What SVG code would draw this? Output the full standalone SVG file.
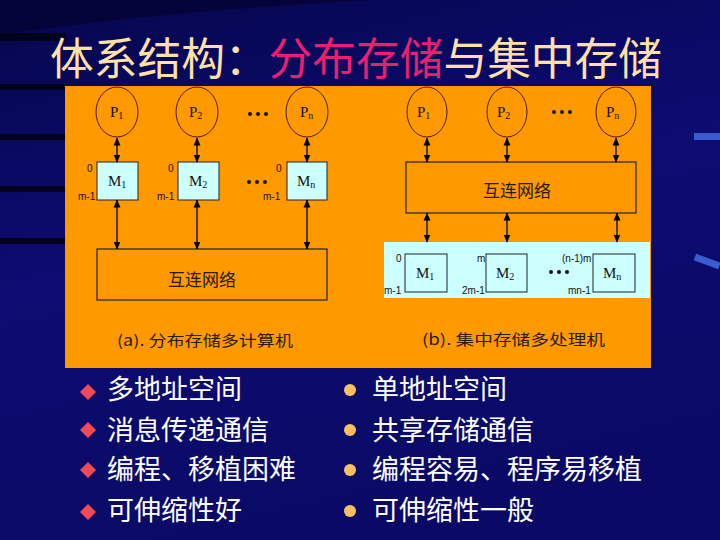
<svg xmlns="http://www.w3.org/2000/svg" width="720" height="540" viewBox="0 0 720 540">
<defs>
<linearGradient id="bg" x1="0" y1="0" x2="0.3" y2="1">
<stop offset="0" stop-color="#06064e"/>
<stop offset="0.5" stop-color="#0c0c72"/>
<stop offset="1" stop-color="#0a0a66"/>
</linearGradient>
<marker id="ah" viewBox="0 0 8 8" refX="7.5" refY="4" markerWidth="8" markerHeight="8" markerUnits="userSpaceOnUse" orient="auto-start-reverse">
<path d="M0,0.5 L8,4 L0,7.5 Z" fill="#000"/>
</marker>
<style>
.proc{fill:none;stroke:#4a1a00;stroke-width:1}
.mem{fill:#ccffff;stroke:#222;stroke-width:1}
.net{fill:none;stroke:#222;stroke-width:1.2}
.conn line{stroke:#000;stroke-width:1.3;marker-start:url(#ah);marker-end:url(#ah)}
.lbl{font-family:"Liberation Serif",serif;font-size:15px;fill:#111}
.sub{font-size:10px}
.addr{font-family:"Liberation Sans",sans-serif;font-size:10px;fill:#111}
.dots{fill:#111}
.cn{font-family:"Noto Sans CJK SC",sans-serif;fill:#2a1a00}
.bul{font-family:"Noto Sans CJK SC",sans-serif;font-size:27px;fill:#ffffff}
</style>
</defs>
<rect width="720" height="540" fill="url(#bg)"/>
<path d="M0,35 Q260,-5 720,-10 L720,0 L0,0 Z" fill="#04043a"/>
<g fill="#02021e">
<rect x="0" y="33" width="66" height="8"/>
<rect x="0" y="84" width="66" height="6"/>
<rect x="0" y="134" width="66" height="6"/>
<rect x="0" y="186" width="66" height="6"/>
<rect x="0" y="238" width="66" height="6"/>
</g>
<rect x="694" y="133" width="26" height="7" fill="#3a5cd0"/>
<rect x="694" y="258" width="26" height="7" fill="#3a5cd0" transform="rotate(20 707 262)"/>

<text x="50" y="75" font-family="'Noto Sans CJK SC',sans-serif" font-size="44" fill="#ffe0a8" textLength="612" lengthAdjust="spacingAndGlyphs">体系结构：<tspan fill="#e8206e">分布存储</tspan>与集中存储</text>

<rect id="panel" x="65" y="86" width="586" height="282" fill="#ff9900"/>

<!-- left diagram -->
<g id="a-P1"><ellipse class="proc" cx="117" cy="112" rx="21" ry="25"/><text class="lbl" x="110" y="117">P<tspan class="sub" dy="2">1</tspan></text></g>
<g id="a-P2"><ellipse class="proc" cx="197" cy="112" rx="21" ry="25"/><text class="lbl" x="189" y="117">P<tspan class="sub" dy="2">2</tspan></text></g>
<g id="a-Pn"><ellipse class="proc" cx="307" cy="112" rx="21" ry="25"/><text class="lbl" x="300" y="117">P<tspan class="sub" dy="2">n</tspan></text></g>
<g id="a-dots1" class="dots"><circle cx="250" cy="114" r="2"/><circle cx="258" cy="114" r="2"/><circle cx="266" cy="114" r="2"/></g>
<g id="a-M1"><rect class="mem" x="97" y="162" width="41" height="38"/><text class="lbl" x="108" y="186">M<tspan class="sub" dy="2">1</tspan></text><text class="addr" x="87" y="172">0</text><text class="addr" x="78" y="200">m-1</text></g>
<g id="a-M2"><rect class="mem" x="178" y="162" width="41" height="38"/><text class="lbl" x="189" y="186">M<tspan class="sub" dy="2">2</tspan></text><text class="addr" x="168" y="172">0</text><text class="addr" x="157" y="200">m-1</text></g>
<g id="a-Mn"><rect class="mem" x="287" y="162" width="40" height="38"/><text class="lbl" x="297" y="186">M<tspan class="sub" dy="2">n</tspan></text><text class="addr" x="276" y="172">0</text><text class="addr" x="263" y="200">m-1</text></g>
<g id="a-dots2" class="dots"><circle cx="249" cy="182" r="2"/><circle cx="257" cy="182" r="2"/><circle cx="265" cy="182" r="2"/></g>
<g id="a-net"><rect class="net" x="97" y="249" width="230" height="51"/><text class="cn" x="202" y="286" font-size="17" text-anchor="middle">互连网络</text></g>
<text id="a-cap" class="cn" x="117" y="346" font-size="15" textLength="176" lengthAdjust="spacingAndGlyphs">(a). 分布存储多计算机</text>

<!-- right diagram -->
<g id="b-P1"><ellipse class="proc" cx="427" cy="112" rx="20" ry="25"/><text class="lbl" x="417" y="117">P<tspan class="sub" dy="2">1</tspan></text></g>
<g id="b-P2"><ellipse class="proc" cx="507" cy="112" rx="20" ry="25"/><text class="lbl" x="497" y="117">P<tspan class="sub" dy="2">2</tspan></text></g>
<g id="b-Pn"><ellipse class="proc" cx="616" cy="112" rx="20" ry="25"/><text class="lbl" x="606" y="117">P<tspan class="sub" dy="2">n</tspan></text></g>
<g id="b-dots1" class="dots"><circle cx="554" cy="112" r="2"/><circle cx="562" cy="112" r="2"/><circle cx="570" cy="112" r="2"/></g>
<g id="b-net"><rect class="net" x="406" y="162" width="230" height="51"/><text class="cn" x="517" y="197" font-size="17" text-anchor="middle">互连网络</text></g>
<rect id="b-band" x="384" y="242" width="266" height="56" fill="#ccffff"/>
<g id="b-M1"><rect class="mem" x="405" y="254" width="42" height="38"/><text class="lbl" x="416" y="278">M<tspan class="sub" dy="2">1</tspan></text><text class="addr" x="396" y="262">0</text><text class="addr" x="384" y="294">m-1</text></g>
<g id="b-M2"><rect class="mem" x="486" y="254" width="41" height="38"/><text class="lbl" x="496" y="278">M<tspan class="sub" dy="2">2</tspan></text><text class="addr" x="477" y="262">m</text><text class="addr" x="462" y="294">2m-1</text></g>
<g id="b-Mn"><rect class="mem" x="593" y="254" width="42" height="38"/><text class="lbl" x="603" y="278">M<tspan class="sub" dy="2">n</tspan></text><text class="addr" x="562" y="262">(n-1)m</text><text class="addr" x="568" y="294">mn-1</text></g>
<g id="b-dots2" class="dots"><circle cx="551" cy="272" r="2"/><circle cx="559" cy="272" r="2"/><circle cx="567" cy="272" r="2"/></g>
<text id="b-cap" class="cn" x="422" y="345" font-size="15" textLength="183" lengthAdjust="spacingAndGlyphs">(b). 集中存储多处理机</text>

<g id="connectors" class="conn">
<line x1="117" y1="138" x2="117" y2="162"/>
<line x1="197" y1="138" x2="197" y2="162"/>
<line x1="307" y1="138" x2="307" y2="162"/>
<line x1="117" y1="200" x2="117" y2="249"/>
<line x1="197" y1="200" x2="197" y2="249"/>
<line x1="307" y1="200" x2="307" y2="249"/>
<line x1="427" y1="138" x2="427" y2="162"/>
<line x1="507" y1="138" x2="507" y2="162"/>
<line x1="616" y1="138" x2="616" y2="162"/>
<line x1="427" y1="213" x2="427" y2="242"/>
<line x1="507" y1="213" x2="507" y2="242"/>
<line x1="617" y1="213" x2="617" y2="242"/>
</g>

<!-- bullets -->
<g id="left-list">
<g fill="#f04a55">
<path d="M88,384 L96,392 L88,400 L80,392 Z"/>
<path d="M88,422 L96,430 L88,438 L80,430 Z"/>
<path d="M88,462 L96,470 L88,478 L80,470 Z"/>
<path d="M88,504 L96,512 L88,520 L80,512 Z"/>
</g>
<text class="bul" x="107" y="399">多地址空间</text>
<text class="bul" x="107" y="440">消息传递通信</text>
<text class="bul" x="107" y="479">编程、移植困难</text>
<text class="bul" x="107" y="520">可伸缩性好</text>
</g>
<g id="right-list">
<g fill="#f8c060">
<circle cx="350" cy="390" r="6"/>
<circle cx="350" cy="430" r="6"/>
<circle cx="350" cy="470" r="6"/>
<circle cx="350" cy="511" r="6"/>
</g>
<text class="bul" x="372" y="399">单地址空间</text>
<text class="bul" x="372" y="440">共享存储通信</text>
<text class="bul" x="372" y="479">编程容易、程序易移植</text>
<text class="bul" x="372" y="520">可伸缩性一般</text>
</g>
</svg>
